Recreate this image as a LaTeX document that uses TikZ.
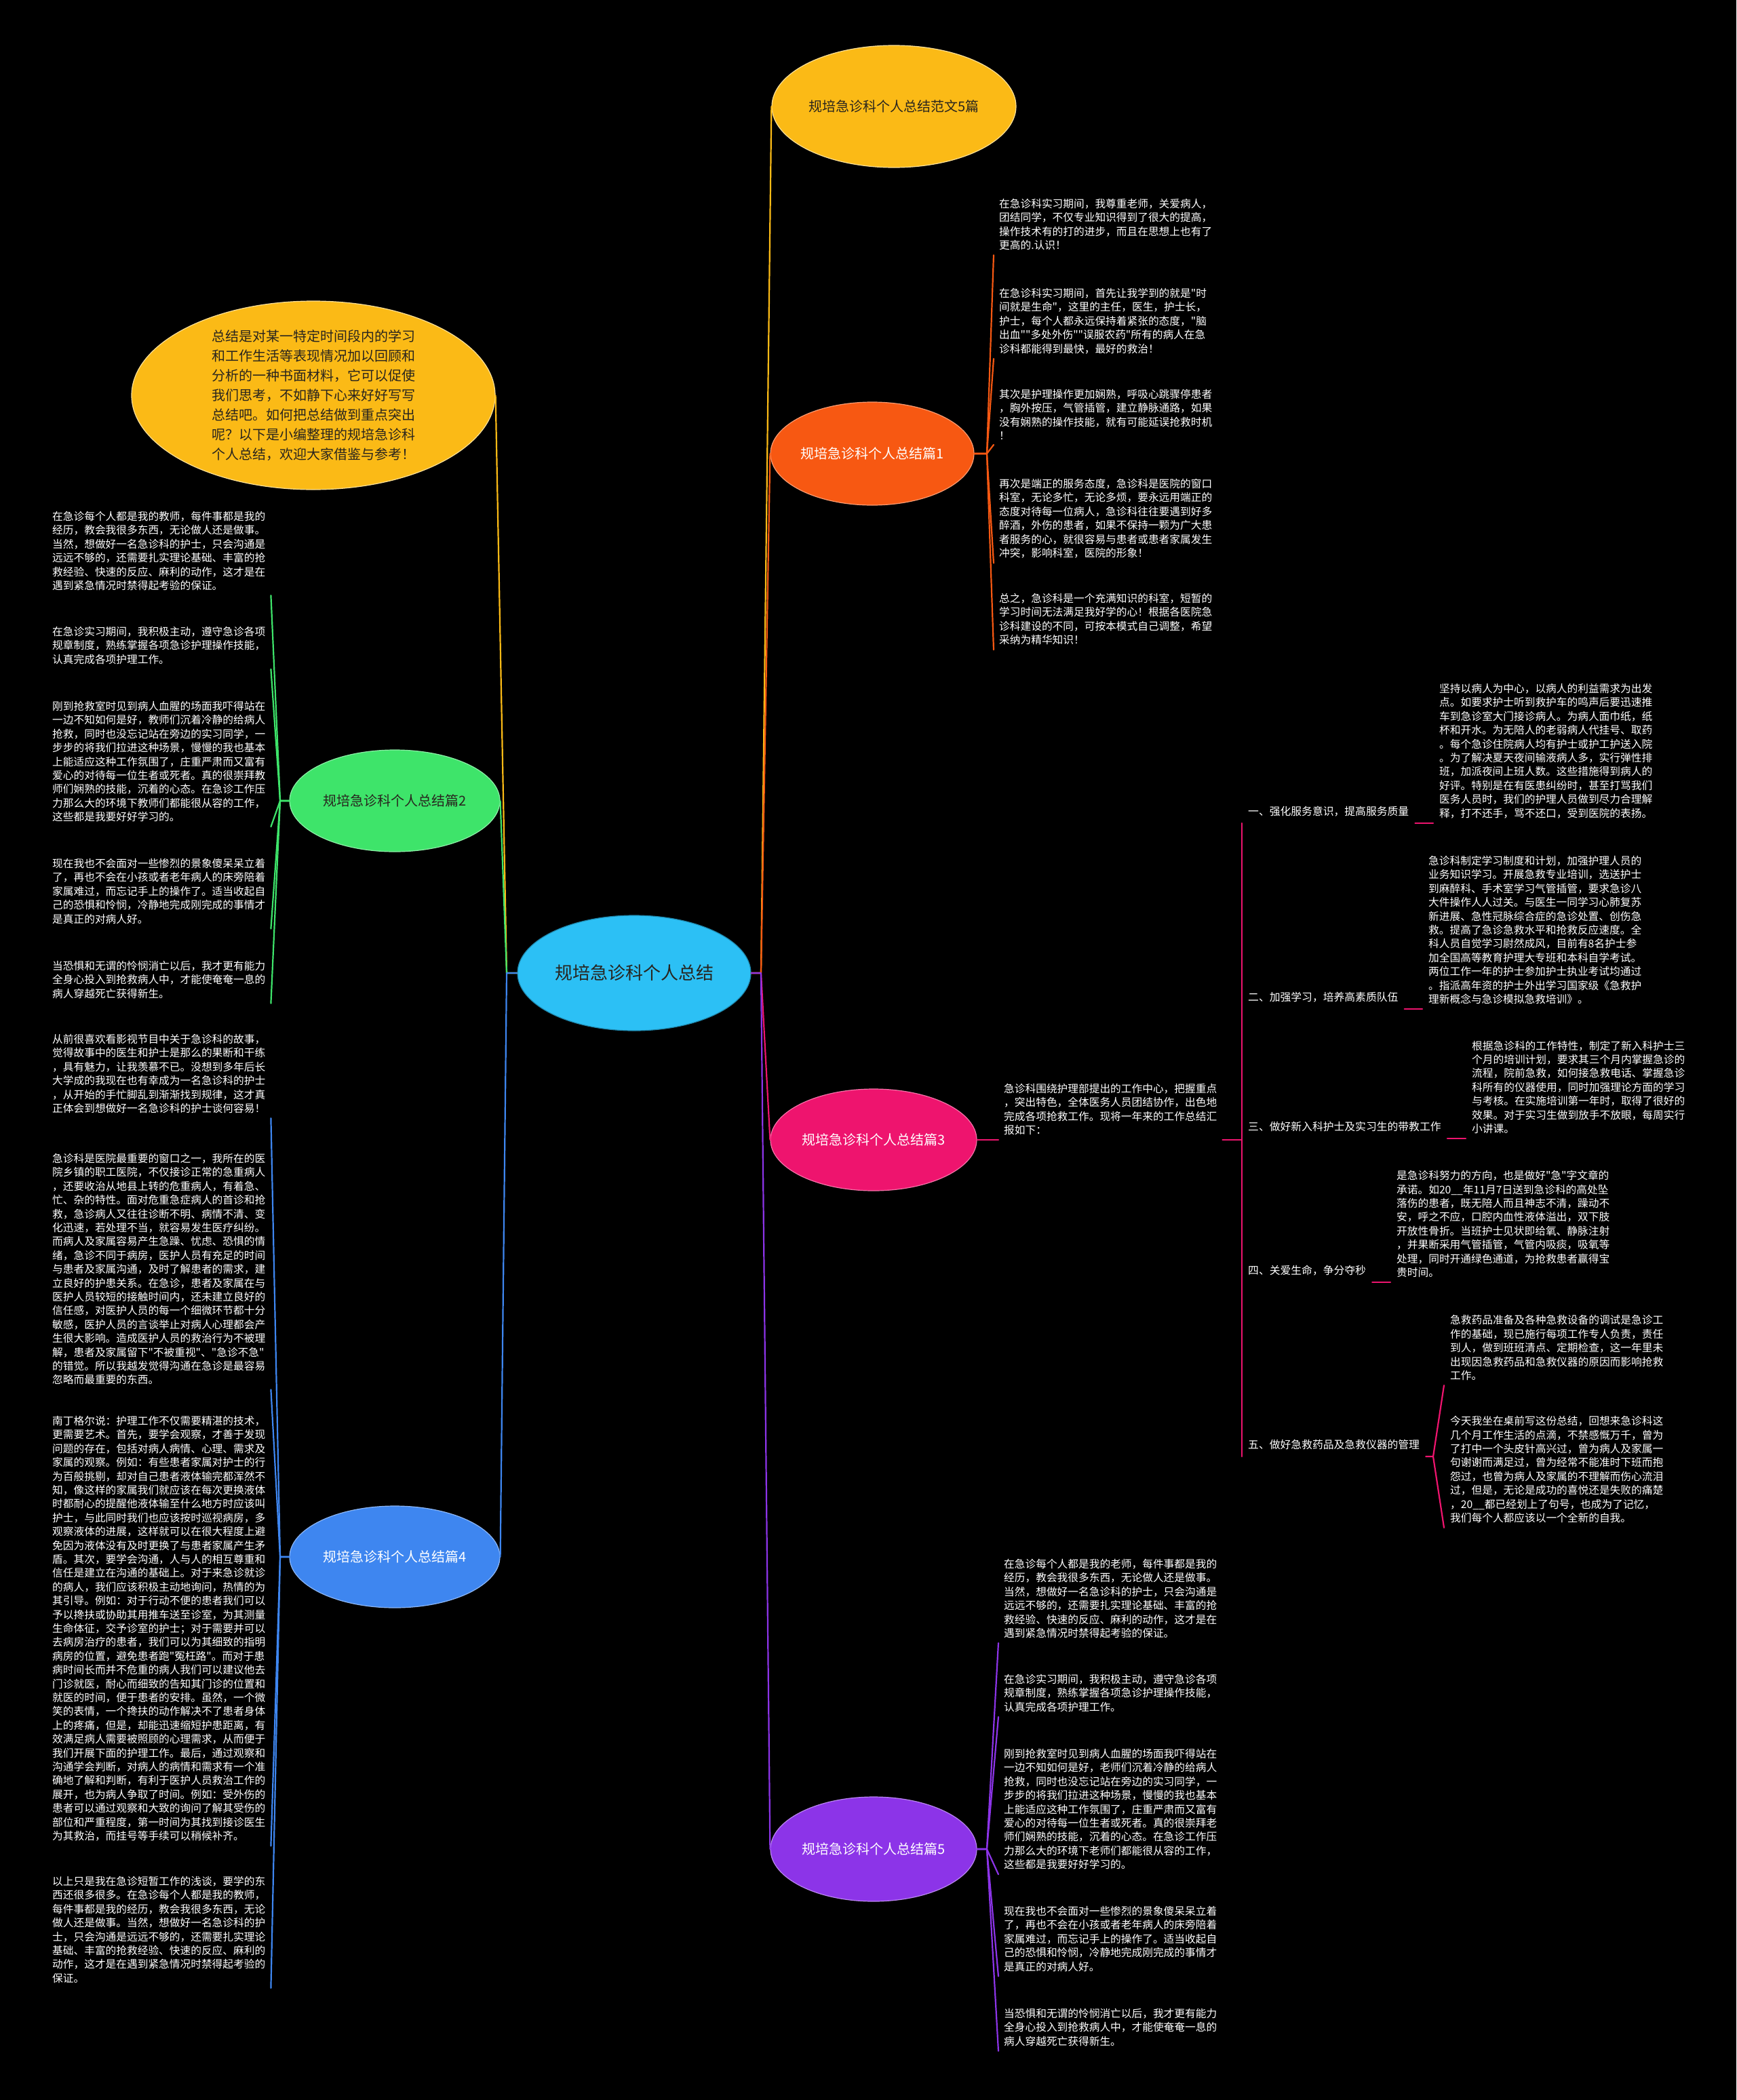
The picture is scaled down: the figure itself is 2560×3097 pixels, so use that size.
\documentclass[tikz,border=0pt]{standalone}
\usepackage{fontspec}
\setmainfont{Noto Sans CJK SC}[Ligatures=TeXOff]
\usetikzlibrary{shapes.geometric}
\definecolor{yel}{RGB}{251,186,22}
\definecolor{cen}{RGB}{44,192,245}
\definecolor{org}{RGB}{247,88,18}
\definecolor{pnk}{RGB}{238,20,110}
\definecolor{pur}{RGB}{140,52,232}
\definecolor{grn}{RGB}{62,228,106}
\definecolor{blu}{RGB}{62,134,240}
\definecolor{dk}{RGB}{40,36,30}
\begin{document}
\begin{tikzpicture}[x=1pt,y=-1pt,
  lvl/.style={ellipse, inner sep=0pt, align=center, font=\fontsize{20}{26}\selectfont, line width=1.2pt},
  txt/.style={text=white, font=\fontsize{15.7}{20.4}\selectfont, align=left, inner xsep=8pt, inner ysep=7pt},
  lab/.style={text=white, font=\fontsize{15.8}{20}\selectfont, inner xsep=9pt, inner ysep=8pt, text height=13pt, text depth=3pt, anchor=south west},
  conn/.style={line width=2.2pt, line join=round, line cap=round}]
\useasboundingbox (0,0) rectangle (2560,3097);
\fill[black] (0,0) rectangle (2560,3097);

% ---------- level 0 / level 1 ----------
\node[lvl, fill=cen, draw=cen!70!black, minimum width=344pt, minimum height=170pt, text=dk, font=\fontsize{26}{30}\selectfont] (root) at (935,1435) {规培急诊科个人总结};
\node[lvl, fill=yel, draw=yel!45!white, minimum width=360pt, minimum height=180pt, text=dk] (top) at (1318,157) {规培急诊科个人总结范文5篇};
\node[lvl, fill=yel, draw=yel!45!white, minimum width=536pt, minimum height=278pt, text=dk, align=left, font=\fontsize{20}{29}\selectfont] (intro) at (462,583) {总结是对某一特定时间段内的学习\\和工作生活等表现情况加以回顾和\\分析的一种书面材料，它可以促使\\我们思考，不如静下心来好好写写\\总结吧。如何把总结做到重点突出\\呢？以下是小编整理的规培急诊科\\个人总结，欢迎大家借鉴与参考！};
\node[lvl, fill=org, draw=org!60!white, minimum width=300pt, minimum height=152pt, text=white] (p1) at (1286,669) {规培急诊科个人总结篇1};
\node[lvl, fill=grn, draw=grn!60!white, minimum width=310pt, minimum height=150pt, text=dk] (p2) at (582,1181) {规培急诊科个人总结篇2};
\node[lvl, fill=pnk, draw=pnk!60!white, minimum width=304pt, minimum height=150pt, text=white] (p3) at (1288,1681) {规培急诊科个人总结篇3};
\node[lvl, fill=blu, draw=blu!60!white, minimum width=310pt, minimum height=150pt, text=white] (p4) at (582,2296) {规培急诊科个人总结篇4};
\node[lvl, fill=pur, draw=pur!60!white, minimum width=304pt, minimum height=154pt, text=white] (p5) at (1288,2727) {规培急诊科个人总结篇5};

\coordinate (JR) at (1122,1435);
\coordinate (JL) at (747,1435);
\draw[conn, yel] (root.east) -- (JR) -- (top.west);
\draw[conn, org] (root.east) -- (JR) -- (p1.west);
\draw[conn, pnk] (root.east) -- (JR) -- (p3.west);
\draw[conn, pur] (root.east) -- (JR) -- (p5.west);
\draw[conn, yel] (root.west) -- (JL) -- (intro.east);
\draw[conn, grn] (root.west) -- (JL) -- (p2.east);
\draw[conn, blu] (root.west) -- (JL) -- (p4.east);

% ---------- 篇1 ----------
\node[txt, anchor=north west] (a1) at (1465,286) {在急诊科实习期间，我尊重老师，关爱病人，\\团结同学，不仅专业知识得到了很大的提高，\\操作技术有的打的进步，而且在思想上也有了\\更高的.认识！};
\node[txt, anchor=north west] (a2) at (1465,418) {在急诊科实习期间，首先让我学到的就是"时\\间就是生命"，这里的主任，医生，护士长，\\护士，每个人都永远保持着紧张的态度，"脑\\出血""多处外伤""误服农药"所有的病人在急\\诊科都能得到最快，最好的救治！};
\node[txt, anchor=north west] (a3) at (1465,567) {其次是护理操作更加娴熟，呼吸心跳骤停患者\\，胸外按压，气管插管，建立静脉通路，如果\\没有娴熟的操作技能，就有可能延误抢救时机\\！};
\node[txt, anchor=north west] (a4) at (1465,699) {再次是端正的服务态度，急诊科是医院的窗口\\科室，无论多忙，无论多烦，要永远用端正的\\态度对待每一位病人，急诊科往往要遇到好多\\醉酒，外伤的患者，如果不保持一颗为广大患\\者服务的心，就很容易与患者或患者家属发生\\冲突，影响科室，医院的形象！};
\node[txt, anchor=north west] (a5) at (1465,868) {总之，急诊科是一个充满知识的科室，短暂的\\学习时间无法满足我好学的心！根据各医院急\\诊科建设的不同，可按本模式自己调整，希望\\采纳为精华知识！};
\coordinate (J1) at (1455,669);
\foreach \n in {a1,a2,a3,a4,a5} \draw[conn, org] (p1.east) -- (J1) -- (\n.south west);

% ---------- 篇2 ----------
\node[txt, anchor=north west] (c1) at (69,747) {在急诊每个人都是我的教师，每件事都是我的\\经历，教会我很多东西，无论做人还是做事。\\当然，想做好一名急诊科的护士，只会沟通是\\远远不够的，还需要扎实理论基础、丰富的抢\\救经验、快速的反应、麻利的动作，这才是在\\遇到紧急情况时禁得起考验的保证。};
\node[txt, anchor=north west] (c2) at (69,917) {在急诊实习期间，我积极主动，遵守急诊各项\\规章制度，熟练掌握各项急诊护理操作技能，\\认真完成各项护理工作。};
\node[txt, anchor=north west] (c3) at (69,1027) {刚到抢救室时见到病人血腥的场面我吓得站在\\一边不知如何是好，教师们沉着冷静的给病人\\抢救，同时也没忘记站在旁边的实习同学，一\\步步的将我们拉进这种场景，慢慢的我也基本\\上能适应这种工作氛围了，庄重严肃而又富有\\爱心的对待每一位生者或死者。真的很崇拜教\\师们娴熟的技能，沉着的心态。在急诊工作压\\力那么大的环境下教师们都能很从容的工作，\\这些都是我要好好学习的。};
\node[txt, anchor=north west] (c4) at (69,1259) {现在我也不会面对一些惨烈的景象傻呆呆立着\\了，再也不会在小孩或者老年病人的床旁陪着\\家属难过，而忘记手上的操作了。适当收起自\\己的恐惧和怜悯，冷静地完成刚完成的事情才\\是真正的对病人好。};
\node[txt, anchor=north west] (c5) at (69,1410) {当恐惧和无谓的怜悯消亡以后，我才更有能力\\全身心投入到抢救病人中，才能使奄奄一息的\\病人穿越死亡获得新生。};
\coordinate (J2) at (413,1181);
\foreach \n in {c1,c2,c3,c4,c5} \draw[conn, grn] (p2.west) -- (J2) -- (\n.south east);

% ---------- 篇4 ----------
\node[txt, anchor=north west] (d1) at (69,1518) {从前很喜欢看影视节目中关于急诊科的故事，\\觉得故事中的医生和护士是那么的果断和干练\\，具有魅力，让我羡慕不已。没想到多年后长\\大学成的我现在也有幸成为一名急诊科的护士\\，从开始的手忙脚乱到渐渐找到规律，这才真\\正体会到想做好一名急诊科的护士谈何容易！};
\node[txt, anchor=north west] (d2) at (69,1694) {急诊科是医院最重要的窗口之一，我所在的医\\院乡镇的职工医院，不仅接诊正常的急重病人\\，还要收治从地县上转的危重病人，有着急、\\忙、杂的特性。面对危重急症病人的首诊和抢\\救，急诊病人又往往诊断不明、病情不清、变\\化迅速，若处理不当，就容易发生医疗纠纷。\\而病人及家属容易产生急躁、忧虑、恐惧的情\\绪，急诊不同于病房，医护人员有充足的时间\\与患者及家属沟通，及时了解患者的需求，建\\立良好的护患关系。在急诊，患者及家属在与\\医护人员较短的接触时间内，还未建立良好的\\信任感，对医护人员的每一个细微环节都十分\\敏感，医护人员的言谈举止对病人心理都会产\\生很大影响。造成医护人员的救治行为不被理\\解，患者及家属留下"不被重视"、"急诊不急"\\的错觉。所以我越发觉得沟通在急诊是最容易\\忽略而最重要的东西。};
\node[txt, anchor=north west] (d3) at (69,2081) {南丁格尔说：护理工作不仅需要精湛的技术，\\更需要艺术。首先，要学会观察，才善于发现\\问题的存在，包括对病人病情、心理、需求及\\家属的观察。例如：有些患者家属对护士的行\\为百般挑剔，却对自己患者液体输完都浑然不\\知，像这样的家属我们就应该在每次更换液体\\时都耐心的提醒他液体输至什么地方时应该叫\\护士，与此同时我们也应该按时巡视病房，多\\观察液体的进展，这样就可以在很大程度上避\\免因为液体没有及时更换了与患者家属产生矛\\盾。其次，要学会沟通，人与人的相互尊重和\\信任是建立在沟通的基础上。对于来急诊就诊\\的病人，我们应该积极主动地询问，热情的为\\其引导。例如：对于行动不便的患者我们可以\\予以搀扶或协助其用推车送至诊室，为其测量\\生命体征，交予诊室的护士；对于需要并可以\\去病房治疗的患者，我们可以为其细致的指明\\病房的位置，避免患者跑"冤枉路"。而对于患\\病时间长而并不危重的病人我们可以建议他去\\门诊就医，耐心而细致的告知其门诊的位置和\\就医的时间，便于患者的安排。虽然，一个微\\笑的表情，一个搀扶的动作解决不了患者身体\\上的疼痛，但是，却能迅速缩短护患距离，有\\效满足病人需要被照顾的心理需求，从而便于\\我们开展下面的护理工作。最后，通过观察和\\沟通学会判断，对病人的病情和需求有一个准\\确地了解和判断，有利于医护人员救治工作的\\展开，也为病人争取了时间。例如：受外伤的\\患者可以通过观察和大致的询问了解其受伤的\\部位和严重程度，第一时间为其找到接诊医生\\为其救治，而挂号等手续可以稍候补齐。};
\node[txt, anchor=north west] (d4) at (69,2760) {以上只是我在急诊短暂工作的浅谈，要学的东\\西还很多很多。在急诊每个人都是我的教师，\\每件事都是我的经历，教会我很多东西，无论\\做人还是做事。当然，想做好一名急诊科的护\\士，只会沟通是远远不够的，还需要扎实理论\\基础、丰富的抢救经验、快速的反应、麻利的\\动作，这才是在遇到紧急情况时禁得起考验的\\保证。};
\coordinate (J4) at (413,2296);
\foreach \n in {d1,d2,d3,d4} \draw[conn, blu] (p4.west) -- (J4) -- (\n.south east);

% ---------- 篇5 ----------
\node[txt, anchor=north west] (e1) at (1472,2292) {在急诊每个人都是我的老师，每件事都是我的\\经历，教会我很多东西，无论做人还是做事。\\当然，想做好一名急诊科的护士，只会沟通是\\远远不够的，还需要扎实理论基础、丰富的抢\\救经验、快速的反应、麻利的动作，这才是在\\遇到紧急情况时禁得起考验的保证。};
\node[txt, anchor=north west] (e2) at (1472,2462) {在急诊实习期间，我积极主动，遵守急诊各项\\规章制度，熟练掌握各项急诊护理操作技能，\\认真完成各项护理工作。};
\node[txt, anchor=north west] (e3) at (1472,2572) {刚到抢救室时见到病人血腥的场面我吓得站在\\一边不知如何是好，老师们沉着冷静的给病人\\抢救，同时也没忘记站在旁边的实习同学，一\\步步的将我们拉进这种场景，慢慢的我也基本\\上能适应这种工作氛围了，庄重严肃而又富有\\爱心的对待每一位生者或死者。真的很崇拜老\\师们娴熟的技能，沉着的心态。在急诊工作压\\力那么大的环境下老师们都能很从容的工作，\\这些都是我要好好学习的。};
\node[txt, anchor=north west] (e4) at (1472,2804) {现在我也不会面对一些惨烈的景象傻呆呆立着\\了，再也不会在小孩或者老年病人的床旁陪着\\家属难过，而忘记手上的操作了。适当收起自\\己的恐惧和怜悯，冷静地完成刚完成的事情才\\是真正的对病人好。};
\node[txt, anchor=north west] (e5) at (1472,2955) {当恐惧和无谓的怜悯消亡以后，我才更有能力\\全身心投入到抢救病人中，才能使奄奄一息的\\病人穿越死亡获得新生。};
\coordinate (J5) at (1455,2727);
\foreach \n in {e1,e2,e3,e4,e5} \draw[conn, pur] (p5.east) -- (J5) -- (\n.south west);

% ---------- 篇3 ----------
\node[txt, anchor=south west] (t3) at (1472,1681) {急诊科围绕护理部提出的工作中心，把握重点\\，突出特色，全体医务人员团结协作，出色地\\完成各项抢救工作。现将一年来的工作总结汇\\报如下：};
\draw[conn, pnk] (p3.east) -- (t3.south west);
\coordinate (J3) at (1831,1681);
\draw[conn, pnk] (t3.south east) -- (J3);

\node[lab] (L1) at (1831,1214) {一、强化服务意识，提高服务质量};
\node[lab] (L2) at (1831,1488) {二、加强学习，培养高素质队伍};
\node[lab] (L3) at (1831,1679) {三、做好新入科护士及实习生的带教工作};
\node[lab] (L4) at (1831,1891) {四、关爱生命，争分夺秒};
\node[lab] (L5) at (1831,2148) {五、做好急救药品及急救仪器的管理};
\foreach \n in {L1,L2,L3,L4,L5} \draw[conn, pnk] (J3) -- (\n.south west);

\node[txt, anchor=south west, inner xsep=9pt] (K1) at (2113,1214) {坚持以病人为中心，以病人的利益需求为出发\\点。如要求护士听到救护车的鸣声后要迅速推\\车到急诊室大门接诊病人。为病人面巾纸，纸\\杯和开水。为无陪人的老弱病人代挂号、取药\\。每个急诊住院病人均有护士或护工护送入院\\。为了解决夏天夜间输液病人多，实行弹性排\\班，加派夜间上班人数。这些措施得到病人的\\好评。特别是在有医患纠纷时，甚至打骂我们\\医务人员时，我们的护理人员做到尽力合理解\\释，打不还手，骂不还口，受到医院的表扬。};
\node[txt, anchor=south west, inner xsep=9pt] (K2) at (2097,1488) {急诊科制定学习制度和计划，加强护理人员的\\业务知识学习。开展急救专业培训，选送护士\\到麻醉科、手术室学习气管插管，要求急诊八\\大件操作人人过关。与医生一同学习心肺复苏\\新进展、急性冠脉综合症的急诊处置、创伤急\\救。提高了急诊急救水平和抢救反应速度。全\\科人员自觉学习尉然成风，目前有8名护士参\\加全国高等教育护理大专班和本科自学考试。\\两位工作一年的护士参加护士执业考试均通过\\。指派高年资的护士外出学习国家级《急救护\\理新概念与急诊模拟急救培训》。};
\node[txt, anchor=south west, inner xsep=9pt] (K3) at (2161,1679) {根据急诊科的工作特性，制定了新入科护士三\\个月的培训计划，要求其三个月内掌握急诊的\\流程，院前急救，如何接急救电话、掌握急诊\\科所有的仪器使用，同时加强理论方面的学习\\与考核。在实施培训第一年时，取得了很好的\\效果。对于实习生做到放手不放眼，每周实行\\小讲课。};
\node[txt, anchor=south west, inner xsep=9pt] (K4) at (2050,1891) {是急诊科努力的方向，也是做好"急"字文章的\\承诺。如20\_\_年11月7日送到急诊科的高处坠\\落伤的患者，既无陪人而且神志不清，躁动不\\安，呼之不应，口腔内血性液体溢出，双下肢\\开放性骨折。当班护士见状即给氧、静脉注射\\，并果断采用气管插管，气管内吸痰，吸氧等\\处理，同时开通绿色通道，为抢救患者赢得宝\\贵时间。};
\draw[conn, pnk] (L1.south east) -- (K1.south west);
\draw[conn, pnk] (L2.south east) -- (K2.south west);
\draw[conn, pnk] (L3.south east) -- (K3.south west);
\draw[conn, pnk] (L4.south east) -- (K4.south west);

\node[txt, anchor=south west, inner xsep=9pt] (F1) at (2129,2043) {急救药品准备及各种急救设备的调试是急诊工\\作的基础，现已施行每项工作专人负责，责任\\到人，做到班班清点、定期检查，这一年里未\\出现因急救药品和急救仪器的原因而影响抢救\\工作。};
\node[txt, anchor=south west, inner xsep=9pt] (F2) at (2129,2253) {今天我坐在桌前写这份总结，回想来急诊科这\\几个月工作生活的点滴，不禁感慨万千，曾为\\了打中一个头皮针高兴过，曾为病人及家属一\\句谢谢而满足过，曾为经常不能准时下班而抱\\怨过，也曾为病人及家属的不理解而伤心流泪\\过，但是，无论是成功的喜悦还是失败的痛楚\\，20\_\_都已经划上了句号，也成为了记忆，\\我们每个人都应该以一个全新的自我。};
\coordinate (J6) at (2113,2148);
\draw[conn, pnk] (L5.south east) -- (J6) -- (F1.south west);
\draw[conn, pnk] (J6) -- (F2.south west);
\end{tikzpicture}
\end{document}
